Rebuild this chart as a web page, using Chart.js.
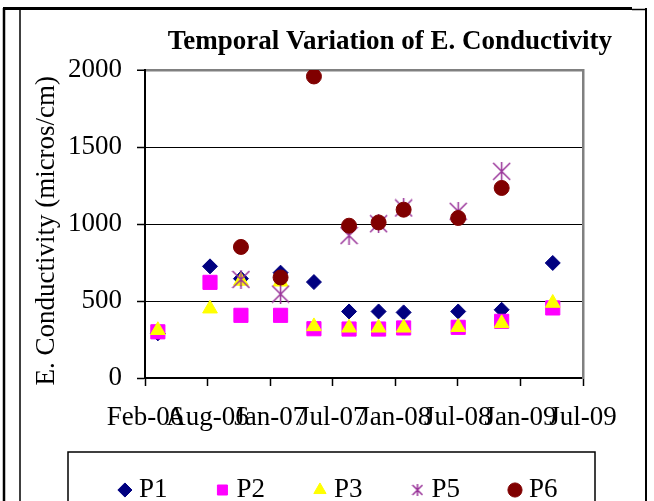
<!DOCTYPE html>
<html>
<head>
<meta charset="utf-8">
<script src="https://cdn.jsdelivr.net/npm/chart.js@4/dist/chart.umd.min.js"></script>
<style>
  body { margin: 0; background: #fff; }
</style>
</head>
<body>
<canvas id="chart" width="654" height="501"></canvas>
<script>
// x axis: Excel date axis, major unit 180 days
const axisStart = '2006-02-03'
const stepDays = 180
const tickLabels = ['Feb-06', 'Aug-06', 'Jan-07', 'Jul-07', 'Jan-08', 'Jul-08', 'Jan-09', 'Jul-09']

const sampleDates = ['2006-03-12', '2006-08-09', '2006-11-06', '2007-02-28', '2007-06-04', '2007-09-13',
                     '2007-12-07', '2008-02-17', '2008-07-23', '2008-11-25', '2009-04-21']

const seriesNames = ['P1', 'P2', 'P3', 'P5', 'P6']
const p1 = [290, 725, 645, 684, 623, 432, 432, 426, 432, 443, 747]
const p2 = [300, 621, 407, 407, 320, 318, 318, 325, 329, 368, 455]
const p3 = [310, 450, 630, 625, 335, 326, 326, 326, 330, 355, 487]
const p5 = [null, null, 640, 545, null, 925, 1002, 1104, 1082, 1342, null]
const p6 = [null, null, 851, 653, 1958, 989, 1010, 1093, 1039, 1234, null]

const yTitle = 'E. Conductivity (micros/cm)'
const chartTitle = 'Temporal Variation of E. Conductivity'

const days = sampleDates.map(d => (Date.parse(d) - Date.parse(axisStart)) / 86400000)

function points(values) {
    return values.map((v, i) => ({ x: days[i], y: v })).filter(p => p.y !== null)
}

// Excel "star" marker: an X with a vertical bar
function starMarker(size, color) {
    const c = document.createElement('canvas')
    c.width = size
    c.height = size
    const g = c.getContext('2d')
    g.strokeStyle = color
    g.lineWidth = 1.5
    g.beginPath()
    g.moveTo(1, 1); g.lineTo(size - 1, size - 1)
    g.moveTo(size - 1, 1); g.lineTo(1, size - 1)
    g.moveTo(size / 2, 0); g.lineTo(size / 2, size)
    g.stroke()
    return c
}

const purple = '#993399'
const starBig = starMarker(19, purple)
const starSmall = starMarker(12, purple)

const styles = [
    { color: '#000080', pointStyle: 'rectRot', radius: 7.5 },
    { color: '#ff00ff', pointStyle: 'rect', radius: 10 },
    { color: '#ffff00', pointStyle: 'triangle', radius: 8.5 },
    { color: purple, pointStyle: starBig, radius: 9 },
    { color: '#800000', pointStyle: 'circle', radius: 7.5 }
]
const values = [p1, p2, p3, p5, p6]

const datasets = seriesNames.map((name, i) => ({
    label: name,
    data: points(values[i]),
    pointStyle: styles[i].pointStyle,
    pointRadius: styles[i].radius,
    pointHoverRadius: styles[i].radius,
    backgroundColor: styles[i].color,
    borderColor: styles[i].color,
    borderWidth: 1,
    order: seriesNames.length - i
}))

const framePlugin = {
    id: 'frame',
    afterDraw(chart) {
        const c = chart.ctx
        c.save()
        c.strokeStyle = '#000'
        const line = (x1, y1, x2, y2, w) => {
            c.lineWidth = w
            c.beginPath()
            c.moveTo(x1, y1)
            c.lineTo(x2, y2)
            c.stroke()
        }
        line(3, 8.5, 632, 8.5, 3)
        line(632, 9.5, 647, 9.5, 1.5)
        line(4, 8, 4, 501, 2.5)
        line(20, 8, 20, 501, 1.5)
        line(646, 8, 646, 501, 2)
        c.lineWidth = 1.5
        c.strokeRect(68, 452, 527, 60)
        c.restore()
    }
}

Chart.defaults.font.family = '"Liberation Serif", "Times New Roman", serif'
Chart.defaults.color = '#000'

new Chart(document.getElementById('chart'), {
    type: 'scatter',
    data: { datasets: datasets },
    plugins: [framePlugin],
    options: {
        responsive: false,
        animation: false,
        layout: { padding: { left: 64, right: 42, top: 0, bottom: -12.5 } },
        scales: {
            x: {
                type: 'linear',
                min: 0,
                max: stepDays * (tickLabels.length - 1),
                grid: { drawOnChartArea: false, drawTicks: true, tickLength: 8, tickColor: '#000', tickWidth: 1.5 },
                border: { color: '#000', width: 2 },
                ticks: {
                    stepSize: stepDays,
                    autoSkip: false,
                    maxRotation: 0,
                    minRotation: 0,
                    padding: 15.8,
                    font: { size: 27 },
                    callback: v => tickLabels[Math.round(v / stepDays)]
                },
                afterFit: s => { s.height = 64.25 }
            },
            y: {
                min: 0,
                max: 2000,
                ticks: { stepSize: 500, padding: 15, font: { size: 27 }, callback: v => String(v) },
                grid: {
                    color: ctx => ctx.tick && ctx.tick.value === 2000 ? '#808080' : '#000',
                    lineWidth: ctx => ctx.tick && ctx.tick.value === 2000 ? 2.5 : 1,
                    tickLength: 8,
                    tickColor: '#000',
                    tickWidth: 1.5
                },
                border: { color: '#000', width: 2 },
                title: {
                    display: true,
                    text: yTitle + '  ',
                    font: { size: 27 },
                    padding: { top: -33.2, bottom: 0 }
                },
                afterFit: s => { s.width = 81 }
            },
            y2: {
                position: 'right',
                min: 0,
                max: 2000,
                ticks: { display: false },
                grid: { drawOnChartArea: false, drawTicks: false },
                border: { color: '#808080', width: 2.5 },
                afterFit: s => { s.width = 29 }
            }
        },
        plugins: {
            title: {
                display: true,
                text: chartTitle,
                align: 'end',
                font: { size: 27, weight: 'bold' },
                padding: { top: 25.8, bottom: 11.8 }
            },
            legend: {
                position: 'bottom',
                align: 'end',
                labels: {
                    usePointStyle: true,
                    boxWidth: 1,
                    boxHeight: 10,
                    padding: 34.25,
                    font: { size: 27 },
                    generateLabels: chart => {
                        const items = Chart.defaults.plugins.legend.labels.generateLabels(chart)
                        items.sort((a, b) => a.datasetIndex - b.datasetIndex)
                        items.forEach(it => {
                            it.text = it.text + '   '
                            if (it.datasetIndex === 3) it.pointStyle = starSmall
                        })
                        return items
                    }
                }
            },
            tooltip: { enabled: false }
        }
    }
})
</script>
</body>
</html>
